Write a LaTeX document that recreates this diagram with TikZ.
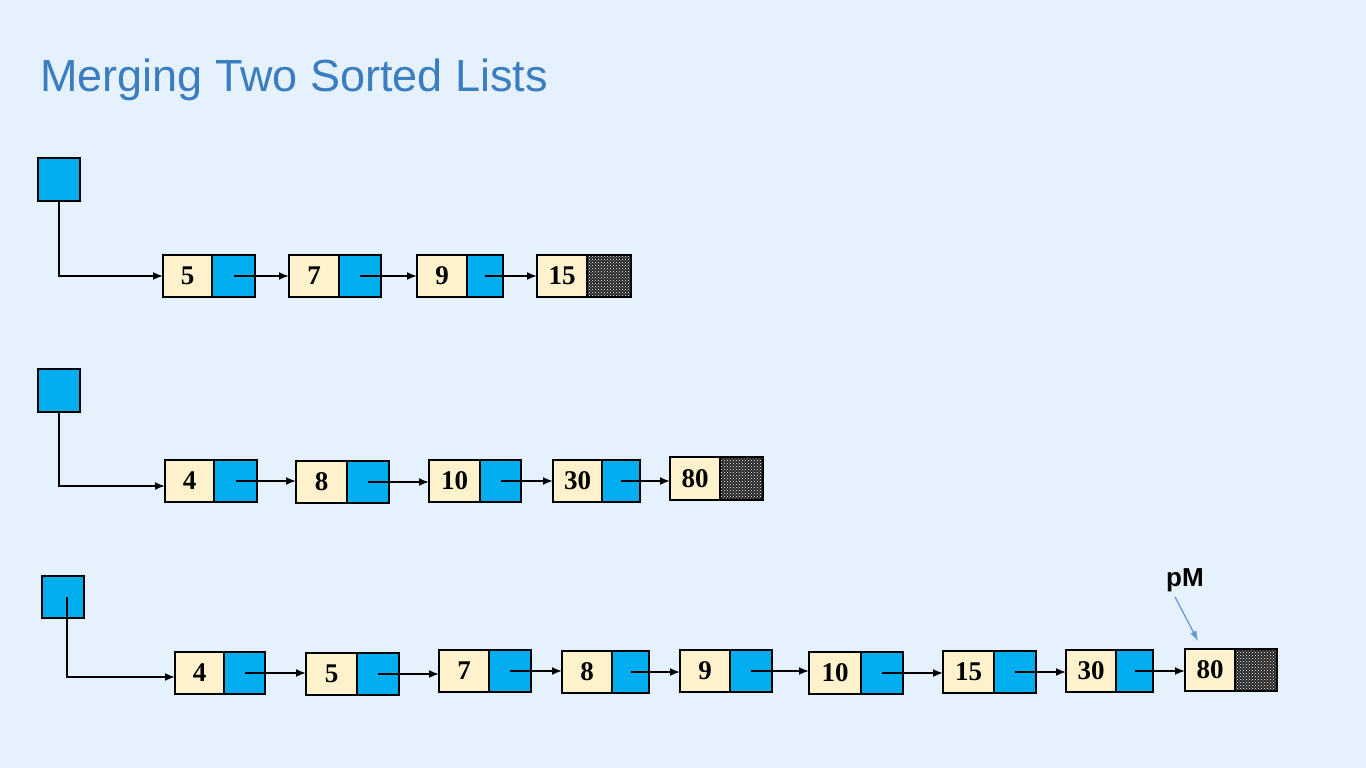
\documentclass[tikz,border=0pt]{standalone}
\usepackage{fontspec}
\setmainfont{Liberation Serif}
\newfontfamily\titlefont{Liberation Sans}
\usetikzlibrary{patterns,calc,arrows.meta}
\definecolor{bgc}{RGB}{229,241,253}
\definecolor{titlec}{RGB}{58,125,192}
\definecolor{cellblue}{RGB}{0,173,239}
\definecolor{cream}{RGB}{254,242,204}
\definecolor{pmc}{RGB}{100,150,215}
\tikzset{
  cellbase/.style={draw=black, line width=2pt, inner sep=0pt, outer sep=0pt, anchor=north west},
  datapart/.style={cellbase, fill=cream, font=\fontsize{27}{27}\selectfont\bfseries},
  ptrpart/.style={cellbase, fill=cellblue},
  nullpart/.style={cellbase, pattern color=white},
  headbox/.style={draw=black, line width=2pt, fill=cellblue, inner sep=0pt, outer sep=0pt, anchor=north west},
  arr/.style={line width=1.8pt, -{Latex[length=10pt,width=8pt]}},
  pmarr/.style={draw=pmc, line width=1.2pt, -{Latex[length=10pt,width=7pt]}},
}
% #1 name, #2 x left, #3 x divider, #4 x right, #5 y top, #6 y bottom, #7 label
\newcommand\listcell[7]{%
  \node[datapart, minimum width={#3-#2}, minimum height={#6-#5}] (#1d) at (#2,#5) {#7};
  \node[ptrpart, minimum width={#4-#3}, minimum height={#6-#5}] (#1p) at (#3,#5) {};}
\newcommand\lastcell[7]{%
  \node[datapart, minimum width={#3-#2}, minimum height={#6-#5}] (#1d) at (#2,#5) {#7};
  \fill[black!85] (#3,#5) rectangle (#4,#6);
  \node[nullpart, pattern=crosshatch dots, minimum width={#4-#3}, minimum height={#6-#5}] (#1p) at (#3,#5) {};}
\begin{document}
\begin{tikzpicture}[x=1pt,y=-1pt]
\fill[bgc] (0,0) rectangle (1366,768);
\useasboundingbox (0,0) rectangle (1366,768);
\node[anchor=base west, inner sep=0pt, text=titlec, font=\titlefont\fontsize{45}{45}\selectfont] (title) at (40,92) {Merging Two Sorted Lists};

% list 1
\node[headbox, minimum width=42, minimum height=43] (h1) at (38,158) {};
\listcell{a1}{163}{212}{255}{255}{297}{5}
\listcell{a2}{289}{339}{381}{255}{297}{7}
\listcell{a3}{417}{467}{503}{255}{297}{9}
\lastcell{a4}{537}{587}{631}{255}{297}{15}
\draw[arr] (h1.south) |- (a1d.west);
\draw[arr] (a1p.center) -- (a1p.center -| a2d.west);
\draw[arr] (a2p.center) -- (a2p.center -| a3d.west);
\draw[arr] (a3p.center) -- (a3p.center -| a4d.west);

% list 2
\node[headbox, minimum width=42, minimum height=43] (h2) at (38,369) {};
\listcell{b1}{165}{214}{257}{460}{502}{4}
\listcell{b2}{296}{347}{389}{461}{503}{8}
\listcell{b3}{429}{480}{521}{460}{502}{10}
\listcell{b4}{553}{602}{640}{460}{502}{30}
\lastcell{b5}{670}{720}{763}{457}{500}{80}
\draw[arr] (h2.south) |- ($(b1d.west)+(0,5)$);
\draw[arr] (b1p.center) -- (b1p.center -| b2d.west);
\draw[arr] (b2p.center) -- (b2p.center -| b3d.west);
\draw[arr] (b3p.center) -- (b3p.center -| b4d.west);
\draw[arr] (b4p.center) -- (b4p.center -| b5d.west);

% merged list
\node[headbox, minimum width=42, minimum height=42] (h3) at (42,576) {};
\listcell{c1}{175}{224}{265}{652}{694}{4}
\listcell{c2}{306}{357}{399}{653}{695}{5}
\listcell{c3}{439}{489}{531}{650}{692}{7}
\listcell{c4}{562}{612}{649}{651}{693}{8}
\listcell{c5}{680}{730}{772}{650}{692}{9}
\listcell{c6}{809}{861}{903}{652}{694}{10}
\listcell{c7}{943}{994}{1036}{651}{693}{15}
\listcell{c8}{1066}{1116}{1153}{650}{692}{30}
\lastcell{c9}{1185}{1235}{1277}{649}{691}{80}
\draw[arr] ($(h3.center)+(4,0)$) |- ($(c1d.west)+(0,4)$);
\draw[arr] (c1p.center) -- (c1p.center -| c2d.west);
\draw[arr] (c2p.center) -- (c2p.center -| c3d.west);
\draw[arr] (c3p.center) -- (c3p.center -| c4d.west);
\draw[arr] (c4p.center) -- (c4p.center -| c5d.west);
\draw[arr] (c5p.center) -- (c5p.center -| c6d.west);
\draw[arr] (c6p.center) -- (c6p.center -| c7d.west);
\draw[arr] (c7p.center) -- (c7p.center -| c8d.west);
\draw[arr] (c8p.center) -- (c8p.center -| c9d.west);

\node[font=\titlefont\bfseries\fontsize{26}{26}\selectfont, inner sep=1pt] (pm) at (1185,580) {pM};
\draw[pmarr] ($(pm.south)+(-10,4)$) -- ($(c9d.north)+(-12,-8)$);
\end{tikzpicture}
\end{document}
